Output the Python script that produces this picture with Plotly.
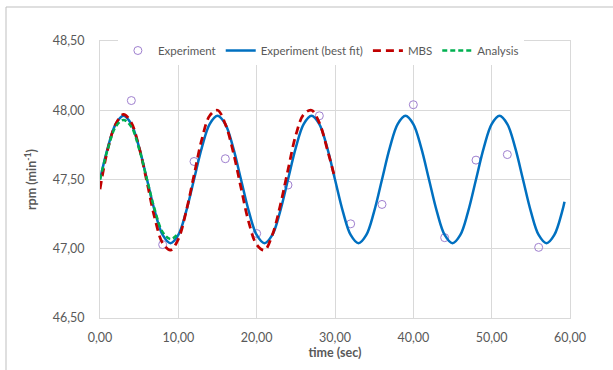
import plotly.graph_objects as go

# ---------------- data ----------------
exp_t = [4, 8, 12, 16, 20, 24, 28, 32, 36, 40, 44, 48, 52, 56]
exp_rpm = [48.07, 47.03, 47.63, 47.65, 47.11, 47.46, 47.96, 47.18, 47.32,
           48.04, 47.08, 47.64, 47.68, 47.01]

fit_t = list(range(0, 60)) + [59.3]
fit_rpm = [
    47.50, 47.73, 47.90, 47.96, 47.90, 47.73, 47.50, 47.27, 47.10, 47.04, 47.10, 47.27,
    47.50, 47.73, 47.90, 47.96, 47.90, 47.73, 47.50, 47.27, 47.10, 47.04, 47.10, 47.27,
    47.50, 47.73, 47.90, 47.96, 47.90, 47.73, 47.50, 47.27, 47.10, 47.04, 47.10, 47.27,
    47.50, 47.73, 47.90, 47.96, 47.90, 47.73, 47.50, 47.27, 47.10, 47.04, 47.10, 47.27,
    47.50, 47.73, 47.90, 47.96, 47.90, 47.73, 47.50, 47.27, 47.10, 47.04, 47.10, 47.27,
    47.34,
]

mbs_t = list(range(0, 30)) + [29.9]
mbs_rpm = [
    47.43, 47.72, 47.90, 47.97, 47.91, 47.73, 47.48, 47.22, 47.04, 46.99, 47.07, 47.27,
    47.53, 47.79, 47.96, 48.00, 47.90, 47.70, 47.44, 47.19, 47.03, 46.99, 47.10, 47.31,
    47.57, 47.82, 47.97, 48.00, 47.91, 47.72, 47.53,
]

ana_t = list(range(0, 11))
ana_rpm = [47.50, 47.72, 47.88, 47.93, 47.88, 47.72, 47.50, 47.28, 47.12, 47.07, 47.11]

x_ticks = [0, 10, 20, 30, 40, 50, 60]
x_labels = ["0,00", "10,00", "20,00", "30,00", "40,00", "50,00", "60,00"]
y_ticks = [46.5, 47.0, 47.5, 48.0, 48.5]
y_labels = ["46,50", "47,00", "47,50", "48,00", "48,50"]

# ---------------- figure ----------------
FONT = "Lato"
TXT = "#595959"
GRID = "#D9D9D9"

fig = go.Figure()
fig.add_trace(go.Scatter(
    x=exp_t, y=exp_rpm, mode="markers", name="Experiment",
    marker=dict(symbol="circle-open", size=8, color="#9F80CF", line=dict(width=1, color="#9F80CF")),
))
fig.add_trace(go.Scatter(
    x=fit_t, y=fit_rpm, mode="lines", name="Experiment (best fit)",
    line=dict(color="#0070C0", width=2.5, shape="spline", smoothing=1.0),
))
fig.add_trace(go.Scatter(
    x=mbs_t, y=mbs_rpm, mode="lines", name="MBS",
    line=dict(color="#C00000", width=2.75, dash="8px,5px", shape="spline", smoothing=1.0),
))
fig.add_trace(go.Scatter(
    x=ana_t, y=ana_rpm, mode="lines", name="Analysis",
    line=dict(color="#00B050", width=2.5, dash="5px,3px", shape="spline", smoothing=1.0),
))

# outer chart-area frame (only left and top edges are visible in the picture)
fig.add_shape(type="rect", xref="paper", yref="paper",
              x0=-0.2, x1=2.0, y0=-1.0, y1=1.1227,
              line=dict(color="#BFBFBF", width=1), layer="below")

fig.update_layout(
    width=613, height=370,
    margin=dict(l=100, r=43, t=41, b=52),
    paper_bgcolor="white", plot_bgcolor="white",
    font=dict(family=FONT, size=12, color=TXT),
    showlegend=True,
    legend=dict(
        orientation="h", x=0.47, xanchor="center", y=1.018, yanchor="top",
        bgcolor="white", font=dict(family=FONT, size=11.5, color=TXT),
        itemwidth=30, tracegroupgap=0,
    ),
    xaxis=dict(
        range=[0, 60], tickvals=x_ticks, ticktext=x_labels,
        showgrid=True, gridcolor=GRID, gridwidth=1, zeroline=False,
        showline=True, mirror=True, linecolor=GRID, linewidth=1,
        ticks="", ticklabelstandoff=8,
        tickfont=dict(family=FONT, size=12.5, color=TXT),
        title=dict(text="<b>time (sec)</b>", font=dict(family=FONT, size=12.5, color=TXT), standoff=4),
    ),
    yaxis=dict(
        range=[46.5, 48.5], tickvals=y_ticks, ticktext=y_labels,
        showgrid=True, gridcolor=GRID, gridwidth=1, zeroline=False,
        showline=True, mirror=True, linecolor=GRID, linewidth=1,
        ticks="", ticklabelstandoff=12,
        tickfont=dict(family=FONT, size=12.5, color=TXT),
        title=dict(text="<b>rpm (min<sup>-1</sup>)</b>", font=dict(family=FONT, size=12.5, color=TXT), standoff=13),
    ),
)

fig.write_html(
    "out.html",
    config={"displayModeBar": False},
    post_script="document.body.style.margin='0';document.body.style.padding='0';",
)
